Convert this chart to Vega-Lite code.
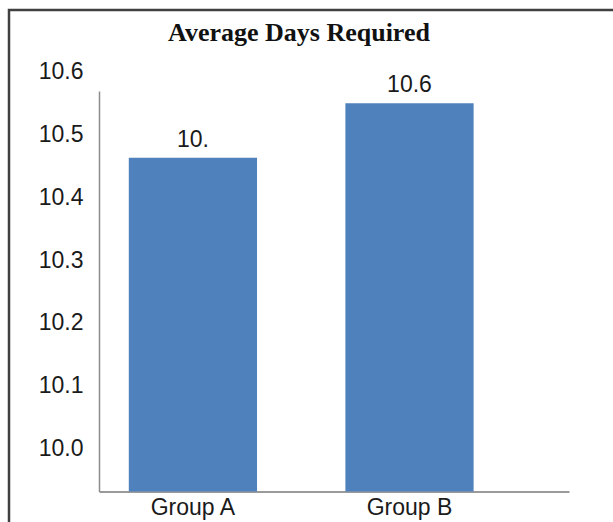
{
  "$schema": "https://vega.github.io/schema/vega-lite/v6.json",
  "width": 620,
  "height": 530,
  "autosize": {"type": "none"},
  "padding": {"left": 9, "top": 10, "right": -16, "bottom": -18},
  "background": "white",
  "title": {"text": "Average Days Required", "font": "Liberation Serif", "fontSize": 26, "fontWeight": "bold", "color": "#111111", "anchor": "middle", "dx": -20, "offset": -57, "baseline": "alphabetic"},
  "data": {"values": [
    {"group": "Group A", "days": 10.463, "label": "10."},
    {"group": "Group B", "days": 10.55, "label": "10.6"}
  ]},
  "encoding": {
    "x": {"field": "group", "type": "nominal", "sort": null,
      "scale": {"range": [90, 560], "paddingInner": 0.408, "paddingOuter": 0.289, "align": 0.238},
      "axis": {"title": null, "orient": "bottom", "offset": -48.5, "ticks": false, "tickSize": 0, "labelPadding": 5, "labelAngle": 0, "labelFont": "Liberation Sans", "labelFontSize": 23, "labelColor": "#1a1a1a", "domainColor": "#9a9a9a", "domainWidth": 2, "grid": false}}
  },
  "layer": [
    {"mark": {"type": "bar", "color": "#4f81bd"},
     "encoding": {
       "y": {"field": "days", "type": "quantitative",
         "scale": {"domain": [9.9313, 10.6], "range": [481.5, 61.9], "nice": false, "zero": false},
         "axis": {"title": null, "orient": "left", "offset": -90, "values": [10, 10.1, 10.2, 10.3, 10.4, 10.5, 10.6], "format": ".1f", "domain": false, "ticks": false, "tickSize": 0, "labelPadding": 16, "labelFont": "Liberation Sans", "labelFontSize": 23, "labelColor": "#1a1a1a", "grid": false}},
       "y2": {"datum": 9.9313}
     }},
    {"mark": {"type": "text", "font": "Liberation Sans", "fontSize": 23, "color": "#1a1a1a", "baseline": "alphabetic", "dy": -11},
     "encoding": {
       "y": {"field": "days", "type": "quantitative",
         "scale": {"domain": [9.9313, 10.5696], "range": [481.5, 81], "nice": false, "zero": false},
         "axis": {"title": null, "orient": "left", "offset": -90, "labels": false, "ticks": false, "tickSize": 0, "grid": false, "domainColor": "#8c8c8c", "domainWidth": 1.5}},
       "text": {"field": "label"}
     }}
  ],
  "resolve": {"scale": {"y": "independent"}, "axis": {"y": "independent"}},
  "config": {"view": {"stroke": "#404040", "strokeWidth": 2.5}}
}
